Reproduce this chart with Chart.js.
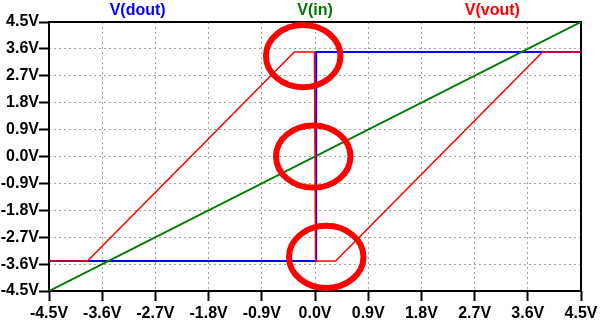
<!DOCTYPE html>
<html>
<head>
<meta charset="utf-8">
<script src="https://cdn.jsdelivr.net/npm/chart.js@4/dist/chart.umd.min.js"></script>
<style>
  html, body { margin: 0; padding: 0; background: #fff; }
  #wrap { width: 602px; height: 322px; }
</style>
</head>
<body>
<div id="wrap"><canvas id="my-chart" width="602" height="322"></canvas></div>
<script>
// axis ticks (volts)
const tickValues = [-4.5, -3.6, -2.7, -1.8, -0.9, 0, 0.9, 1.8, 2.7, 3.6, 4.5];

// traces: x = V(in) sweep, y = node voltage
const inX   = [-4.5, 4.5];
const inY   = [-4.5, 4.5];
const doutX = [-4.5, 0.02, 0.02, 4.5];
const doutY = [-3.5, -3.5, 3.5, 3.5];
const voutX = [-4.5, -3.85, -0.35, -0.01, 0.01, 0.35, 3.85, 4.5];
const voutY = [-3.5, -3.5, 3.5, 3.5, -3.5, -3.5, 3.5, 3.5];

// trace names and colours
const names  = ['V(dout)', 'V(in)', 'V(vout)'];
const colors = ['#0000ff', '#007a00', '#ff0000'];

// red highlight rings (centre and radii in volts)
const ringX  = [-0.2, -0.03, 0.19];
const ringY  = [3.36, 0.0, -3.36];
const ringRx = [0.63, 0.63, 0.63];
const ringRy = [1.04, 1.04, 1.04];

const pts = (xs, ys) => xs.map((x, i) => ({x: x, y: ys[i]}));

const fmt = v => (Math.abs(v) < 1e-9 ? 0 : v).toFixed(1) + 'V';

const frameAndNames = {
  id: 'frameAndNames',
  beforeDatasetsDraw(chart) {
    const {ctx, chartArea: a} = chart;
    ctx.save();
    ctx.strokeStyle = '#000';
    ctx.lineWidth = 2;
    ctx.strokeRect(a.left, a.top, a.right - a.left, a.bottom - a.top);
    ctx.restore();
  },
  afterDraw(chart) {
    const {ctx, chartArea: a, scales} = chart;
    ctx.save();
    // rings
    ctx.strokeStyle = '#ff0000';
    ctx.lineWidth = 6;
    ringX.forEach((cx, i) => {
      const px = scales.x.getPixelForValue(cx);
      const py = scales.y.getPixelForValue(ringY[i]);
      const rx = Math.abs(scales.x.getPixelForValue(cx + ringRx[i]) - px);
      const ry = Math.abs(scales.y.getPixelForValue(ringY[i] + ringRy[i]) - py);
      ctx.beginPath();
      ctx.ellipse(px, py, rx, ry, 0, 0, Math.PI * 2);
      ctx.stroke();
    });
    // trace names above the plot
    ctx.font = 'bold 16px "Liberation Sans", Arial, sans-serif';
    ctx.textAlign = 'center';
    ctx.textBaseline = 'middle';
    const w = a.right - a.left;
    [1 / 6, 1 / 2, 5 / 6].forEach((f, i) => {
      ctx.fillStyle = colors[i];
      ctx.fillText(names[i], a.left + w * f, 11);
    });
    ctx.restore();
  }
};

const axis = (isX) => ({
  type: 'linear',
  min: -4.5,
  max: 4.5,
  afterBuildTicks: s => { s.ticks = tickValues.map(v => ({value: v})); },
  afterFit: s => { if (isX) s.height = 31; else s.width = 49; },
  grid: {
    color: '#a0a0a0',
    lineWidth: 1,
    drawTicks: true,
    tickLength: 10,
    tickColor: '#000',
    tickWidth: 2
  },
  border: { display: false, dash: [2, 3] },
  ticks: {
    color: '#000',
    padding: isX ? 3 : 0,
    autoSkip: false,
    maxRotation: 0,
    font: { family: '"Liberation Sans", Arial, sans-serif', size: 16, weight: 'bold' },
    callback: v => fmt(v)
  }
});

new Chart(document.getElementById('my-chart').getContext('2d'), {
  type: 'scatter',
  data: {
    datasets: [
      { label: names[0], data: pts(doutX, doutY), borderColor: colors[0], borderWidth: 2, order: 2 },
      { label: names[1], data: pts(inX, inY), borderColor: colors[1], borderWidth: 2, order: 1 },
      { label: names[2], data: pts(voutX, voutY), borderColor: colors[2], borderWidth: 1.5, order: 0 }
    ].map(d => Object.assign(d, { showLine: true, pointRadius: 0, fill: false, tension: 0 }))
  },
  options: {
    responsive: false,
    animation: false,
    layout: { padding: { top: 22, right: 21, left: 0, bottom: 0 } },
    plugins: { legend: { display: false }, tooltip: { enabled: false } },
    scales: { x: axis(true), y: axis(false) }
  },
  plugins: [frameAndNames]
});
</script>
</body>
</html>
